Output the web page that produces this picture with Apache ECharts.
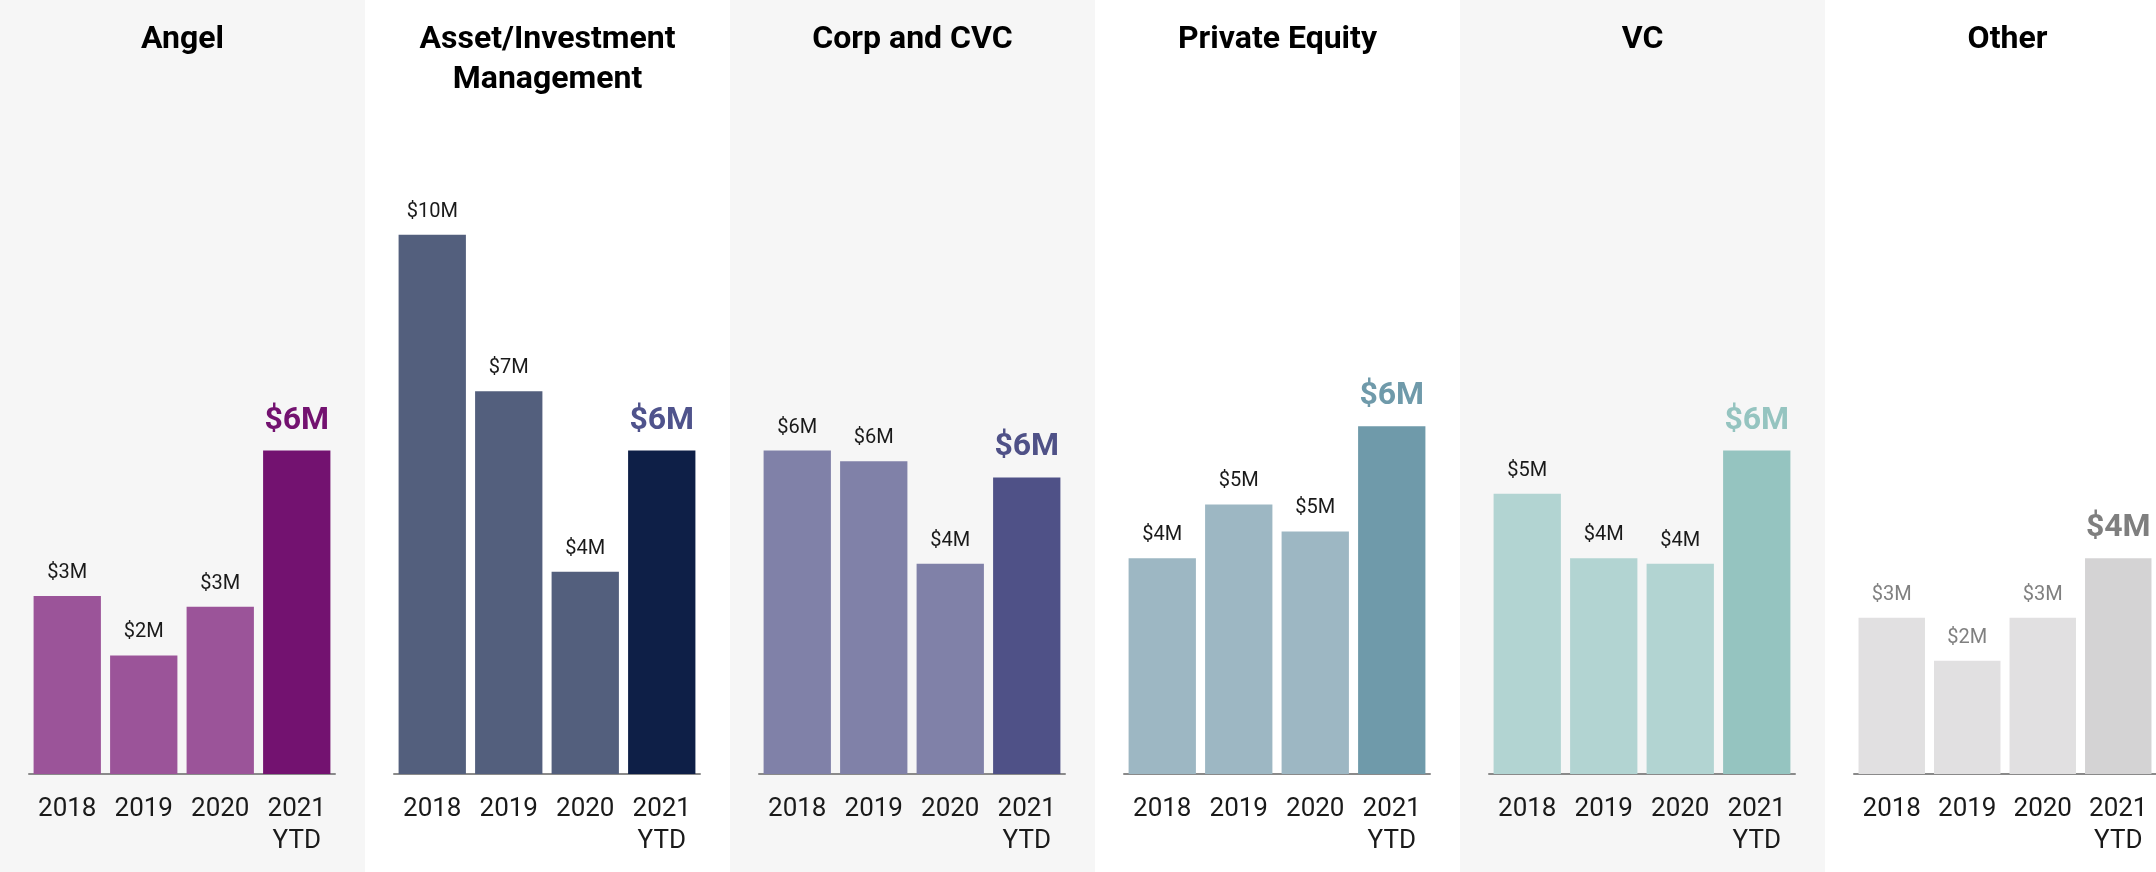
<!DOCTYPE html>
<html>
<head>
<meta charset="utf-8">
<style>
  html, body { margin: 0; padding: 0; background: #ffffff; }
  #chart { width: 2156px; height: 872px; }
</style>
<script src="https://cdn.jsdelivr.net/npm/echarts@6/dist/echarts.min.js"></script>
</head>
<body>
<div id="chart"></div>
<script>
// ---- data ----
const years = ['2018', '2019', '2020', '2021\nYTD'];
const panelTitles = ['Angel', 'Asset/Investment\nManagement', 'Corp and CVC', 'Private Equity', 'VC', 'Other'];
const angel = [3.3, 2.2, 3.1, 6.0];
const assetMgmt = [10.0, 7.1, 3.75, 6.0];
const corpCvc = [6.0, 5.8, 3.9, 5.5];
const privateEquity = [4.0, 5.0, 4.5, 6.45];
const vc = [5.2, 4.0, 3.9, 6.0];
const other = [2.9, 2.1, 2.9, 4.0];

// ---- styles ----
const seriesData = [angel, assetMgmt, corpCvc, privateEquity, vc, other];
const lightColors = ['#9b5499', '#535f7d', '#8081a8', '#9db7c3', '#b2d4d2', '#e1e0e1'];
const darkColors  = ['#731270', '#0e1f47', '#4f5187', '#6f9aaa', '#95c4c0', '#d4d3d4'];
const bigLabelColors = ['#731270', '#4f538c', '#4f5187', '#6f9aaa', '#95c4c0', '#7f7f7f'];
const smallLabelColors = ['#1a1a1a', '#1a1a1a', '#1a1a1a', '#1a1a1a', '#1a1a1a', '#808080'];
const panelBg = ['#f6f6f6', '#ffffff', '#f6f6f6', '#ffffff', '#f6f6f6', '#ffffff'];

const PANEL_W = 365;
const FONT = 'Roboto, "Noto Sans", sans-serif';

const grids = [], xAxes = [], yAxes = [], series = [], titles = [], graphics = [];

seriesData.forEach((vals, i) => {
  const left = i * PANEL_W;
  graphics.push({
    type: 'rect', z: -100, silent: true,
    shape: { x: left, y: 0, width: PANEL_W, height: 872 },
    style: { fill: panelBg[i] }
  });
  grids.push({ left: left + 29, width: 306, top: 127, bottom: 98, containLabel: false });
  xAxes.push({
    type: 'category', gridIndex: i, data: years,
    axisLine: { show: true, lineStyle: { color: '#8a8a8a', width: 2 } },
    axisTick: { show: false },
    axisLabel: { fontFamily: FONT, fontSize: 26, color: '#1a1a1a', lineHeight: 32, margin: 19, interval: 0 }
  });
  yAxes.push({
    type: 'value', gridIndex: i, min: 0, max: 12,
    show: false, splitLine: { show: false }
  });
  titles.push({
    text: panelTitles[i],
    left: left + PANEL_W / 2, top: 20, textAlign: 'center', padding: 0,
    textStyle: { fontFamily: FONT, fontSize: 32, fontWeight: 'bold', color: '#000000', lineHeight: 40 }
  });
  series.push({
    type: 'bar', xAxisIndex: i, yAxisIndex: i,
    barCategoryGap: '12%',
    data: vals.map((v, j) => {
      const last = j === vals.length - 1;
      return {
        value: v,
        itemStyle: { color: last ? darkColors[i] : lightColors[i] },
        label: last
          ? { fontSize: 32, fontWeight: 'bold', color: bigLabelColors[i], distance: 14 }
          : { fontSize: 20, fontWeight: 'normal', color: smallLabelColors[i], distance: 13 }
      };
    }),
    label: {
      show: true, position: 'top', fontFamily: FONT,
      formatter: p => '$' + Math.round(p.value) + 'M'
    }
  });
});

const chart = echarts.init(document.getElementById('chart'), null, { renderer: 'canvas' });
chart.setOption({
  animation: false,
  backgroundColor: '#ffffff',
  title: titles,
  grid: grids,
  xAxis: xAxes,
  yAxis: yAxes,
  series: series,
  graphic: { elements: graphics }
});
</script>
</body>
</html>
